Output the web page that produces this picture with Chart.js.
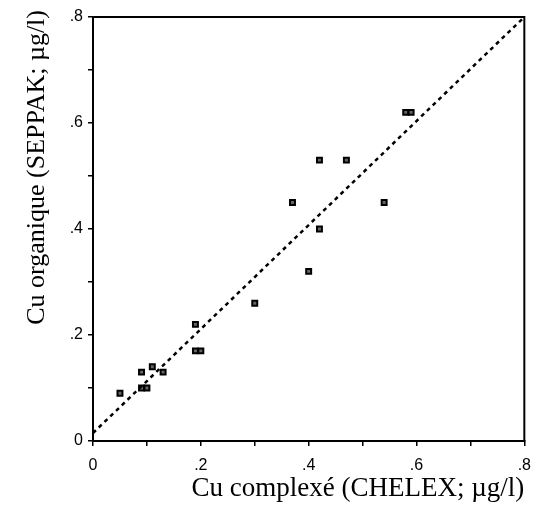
<!DOCTYPE html>
<html>
<head>
<meta charset="utf-8">
<script src="https://cdn.jsdelivr.net/npm/chart.js@4/dist/chart.umd.min.js"></script>
<style>
  html, body { margin: 0; padding: 0; background: #fff; }
  #wrap { width: 541px; height: 516px; }
</style>
</head>
<body>
<div id="wrap"><canvas id="c" width="541" height="516"></canvas></div>
<script>
// Copper measurements: complexed Cu (CHELEX) vs organic Cu (SEPPAK), µg/l
const cuChelex = [0.05, 0.09, 0.10, 0.09, 0.11, 0.13, 0.19, 0.20, 0.19, 0.30, 0.40, 0.42, 0.37, 0.54, 0.42, 0.47, 0.58, 0.59];
const cuSeppak = [0.09, 0.10, 0.10, 0.13, 0.14, 0.13, 0.17, 0.17, 0.22, 0.26, 0.32, 0.40, 0.45, 0.45, 0.53, 0.53, 0.62, 0.62];

// Fitted line end points
const fitX = [0, 0.8];
const fitY = [0.015, 0.8];

// Axis tick labels (every other minor tick is labelled)
const tickLabels = ['0', '.2', '.4', '.6', '.8'];

const xTitle = 'Cu complexé (CHELEX; µg/l)';
const yTitle = 'Cu organique (SEPPAK; µg/l)';

const points = cuChelex.map((x, i) => ({ x: x, y: cuSeppak[i] }));
const fitLine = fitX.map((x, i) => ({ x: x, y: fitY[i] }));

const tickFont = { family: 'Liberation Sans', size: 16 };
const titleFont = { family: 'Liberation Serif', size: 27 };

function tickLabel(value, index) {
  return index % 2 === 0 ? (tickLabels[index / 2] || '') : '';
}

// Closed frame around the plot area
const frame = {
  id: 'frame',
  afterDatasetsDraw(chart) {
    const a = chart.chartArea, ctx = chart.ctx;
    ctx.save();
    ctx.strokeStyle = '#000';
    ctx.lineWidth = 2;
    ctx.strokeRect(a.left, a.top, a.right - a.left, a.bottom - a.top);
    ctx.restore();
  }
};

// Vertical axis title, running from the top of the canvas downwards
const yAxisTitle = {
  id: 'yAxisTitle',
  afterDraw(chart) {
    const ctx = chart.ctx;
    ctx.save();
    ctx.translate(37, 10);
    ctx.rotate(-Math.PI / 2);
    ctx.font = '26px "Liberation Serif"';
    ctx.fillStyle = '#000';
    ctx.textAlign = 'right';
    ctx.textBaseline = 'middle';
    ctx.fillText(yTitle, 0, 0);
    ctx.restore();
  }
};

new Chart(document.getElementById('c'), {
  data: {
    datasets: [
      {
        type: 'line',
        data: fitLine,
        borderColor: '#000',
        borderWidth: 2.5,
        borderDash: [4, 4],
        pointRadius: 0,
        fill: false
      },
      {
        type: 'scatter',
        data: points,
        pointStyle: 'rect',
        pointRadius: 3.5,
        borderWidth: 2,
        borderColor: '#000',
        backgroundColor: '#666'
      }
    ]
  },
  options: {
    responsive: false,
    animation: false,
    layout: { padding: { top: 17, right: 16, bottom: 0, left: 0 } },
    plugins: { legend: { display: false }, tooltip: { enabled: false } },
    scales: {
      x: {
        type: 'linear',
        min: 0, max: 0.8,
        afterFit(s) { s.height = 75; },
        ticks: { stepSize: 0.1, autoSkip: false, maxRotation: 0, color: '#000', font: tickFont, padding: 10, callback: tickLabel },
        grid: { display: true, drawOnChartArea: false, drawTicks: true, tickLength: 5, color: '#000', lineWidth: 1.5 },
        border: { display: true, color: '#000', width: 2 },
        title: { display: true, text: xTitle, align: 'end', color: '#000', font: titleFont, padding: { top: 0, bottom: 11 } }
      },
      y: {
        type: 'linear',
        min: 0, max: 0.8,
        afterFit(s) { s.width = 93; },
        ticks: { stepSize: 0.1, autoSkip: false, color: '#000', font: tickFont, padding: 5, callback: tickLabel },
        grid: { display: true, drawOnChartArea: false, drawTicks: true, tickLength: 5, color: '#000', lineWidth: 1.5 },
        border: { display: true, color: '#000', width: 2 },
        title: { display: false }
      }
    }
  },
  plugins: [frame, yAxisTitle]
});
</script>
</body>
</html>
